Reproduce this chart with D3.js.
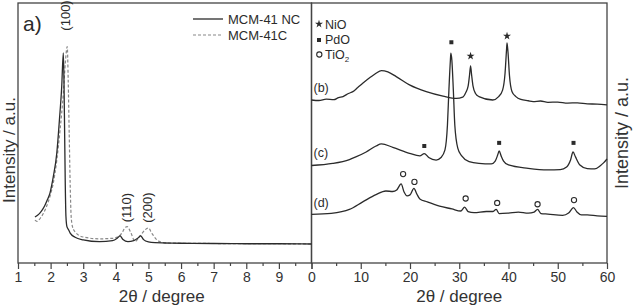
<!DOCTYPE html>
<html>
<head>
<meta charset="utf-8">
<script src="https://cdn.jsdelivr.net/npm/d3@7"></script>
<style>
  body { margin: 0; background: #fff; }
  svg { display: block; font-family: "Liberation Sans", Arial, sans-serif; }
</style>
</head>
<body>
<div id="chart"></div>
<script>
// panel a) : low angle XRD, MCM-41 NC (solid) and MCM-41C (dashed)
var ncX = [1.52, 1.6, 1.67, 1.75, 1.83, 1.9, 1.98, 2.08, 2.19, 2.27, 2.34, 2.39, 2.41, 2.43, 2.45, 2.47, 2.5, 2.55, 2.6, 2.75, 3.0, 3.5, 3.9, 4.05, 4.13, 4.22, 4.37, 4.55, 4.68, 4.76, 4.85, 5.0, 5.2, 5.5, 6, 7, 8, 9, 10];
var ncY = [17.7, 18.4, 19.2, 20.5, 22.3, 24.3, 26.9, 33, 42.3, 55, 67.7, 80.8, 70, 50, 30, 18, 14, 12.8, 11.5, 9.9, 8.9, 8.2, 8.6, 9.6, 10.4, 9.0, 8.2, 8.6, 9.6, 10.4, 9.0, 8.1, 7.8, 7.7, 7.6, 7.5, 7.4, 7.4, 7.3];
var cX = [1.52, 1.58, 1.62, 1.7, 1.78, 1.85, 1.93, 2.0, 2.08, 2.19, 2.29, 2.39, 2.45, 2.51, 2.54, 2.57, 2.6, 2.63, 2.67, 2.72, 2.8, 3.0, 3.5, 3.9, 4.1, 4.2, 4.28, 4.35, 4.45, 4.59, 4.75, 4.9, 5.0, 5.1, 5.25, 5.4, 5.6, 6, 7, 8, 9, 10];
var cY = [16.5, 16, 16.3, 17.5, 19.1, 21, 23.6, 26.5, 30.6, 39.6, 51.2, 65.3, 76.8, 83.2, 70, 50, 30, 18, 14, 12.5, 11.3, 10, 9.3, 9.5, 10.3, 11.8, 13.6, 14, 12, 8.3, 10.5, 12.8, 13.5, 11.5, 9, 8, 7.7, 7.6, 7.5, 7.4, 7.4, 7.3];

// wide angle XRD, traces (b), (c), (d)
var bX = [0, 1.5, 3, 4.5, 5.5, 6.4, 7.5, 8.4, 9.4, 10.4, 12, 13.1, 14.2, 15.5, 17.2, 19.9, 23.3, 26.7, 29.4, 30.7, 31.3, 31.8, 32.1, 32.3, 32.5, 32.8, 33.3, 34, 36.8, 38.0, 38.8, 39.3, 39.6, 39.7, 39.9, 40.2, 40.7, 41.5, 42.5, 44, 45, 46.5, 48, 50, 52, 54, 56, 58, 60];
var bY = [62.7, 62.5, 63.0, 62.8, 63.6, 64, 65.2, 65.9, 67.5, 69.1, 71.5, 73, 74, 73.5, 71.7, 68.5, 65.9, 64.2, 63.3, 63.8, 65.5, 68, 72.5, 75.8, 72.5, 68, 65.2, 64, 62.7, 64, 66.5, 73, 82, 84.7, 81, 72, 66, 64, 62.9, 62.4, 62.1, 62.3, 61.8, 61.9, 61.5, 61.6, 61.2, 61.1, 60.8];
var tcX = [0, 4.3, 7.7, 9, 11.1, 13.1, 14.2, 16.5, 19.9, 22, 22.9, 23.8, 25.3, 26.3, 27.1, 27.6, 27.9, 28.2, 28.3, 28.5, 28.8, 29.1, 29.7, 30.5, 32, 34, 36.5, 37.3, 37.8, 38.1, 38.5, 39, 40, 44, 48, 50.5, 51.8, 52.6, 53.1, 53.6, 54.5, 56, 57.5, 58.7, 59.3, 60];
var tcY = [37.5, 38.3, 39.8, 40.8, 42.7, 45, 45.8, 44.5, 42.2, 41.2, 42.1, 40.6, 39.6, 40.6, 43.5, 53, 66.5, 78, 80.7, 78, 66.5, 53, 44.2, 41.2, 39, 38.3, 38.1, 39.2, 41.5, 43.1, 41.2, 39.2, 37.7, 36.4, 35.8, 35.9, 36.9, 39.6, 42.7, 40.8, 37.7, 36.3, 36.2, 37.5, 38.5, 40];
var dX = [0, 4, 7.7, 10.4, 13.1, 15.1, 16.5, 17.3, 18.2, 18.8, 19.4, 20, 20.8, 21.4, 22, 23.5, 26, 28.5, 30.3, 31.1, 31.8, 33, 35.5, 36.8, 37.5, 38.1, 40, 42, 44, 45.2, 45.9, 46.6, 48, 51, 52.2, 53.2, 53.9, 54.8, 56, 58, 60];
var dY = [18.7, 19.1, 20.6, 23.5, 26.3, 27.7, 27.5, 28.1, 30.4, 27.3, 25.8, 26.2, 28.7, 26.5, 24.6, 23.5, 21.9, 20.8, 20, 21.5, 19.8, 19.4, 19.8, 19.8, 20.6, 19, 19.2, 19.6, 19.2, 19.6, 20.6, 19, 18.8, 18.3, 19.2, 21.3, 19.6, 18.5, 18.5, 18.1, 17.9];

// phase markers
var nioX = [32.3, 39.7], nioY = [79.6, 87.3];
var pdoX = [22.9, 28.4, 38.1, 53.2], pdoY = [45, 84.9, 46.2, 46.2];
var tio2X = [18.6, 20.9, 31.3, 37.7, 45.9, 53.3], tio2Y = [34.2, 31.2, 24.8, 23.1, 22.6, 24.2];

// axis ticks
var leftTicks = [1, 2, 3, 4, 5, 6, 7, 8, 9, 10];
var leftMinor = [1.5, 2.5, 3.5, 4.5, 5.5, 6.5, 7.5, 8.5, 9.5];
var rightTicks = [0, 10, 20, 30, 40, 50, 60];
var rightMinor = [5, 15, 25, 35, 45, 55];

var width = 633, height = 306;
var ink = "#2b2b2b";

var svg = d3.select("#chart").append("svg")
  .attr("width", width)
  .attr("height", height);

svg.append("rect").attr("width", width).attr("height", height).attr("fill", "#fff");

var xL = d3.scaleLinear().domain([1, 10]).range([18, 311.5]);
var xR = d3.scaleLinear().domain([0, 60]).range([311.5, 607]);
var y = d3.scaleLinear().domain([0, 100]).range([263, 3]);

function pts(xs, ys) { return xs.map((d, i) => [d, ys[i]]); }

// frames
[xL, xR].forEach(function (sx) {
  svg.append("rect")
    .attr("x", sx.range()[0]).attr("y", y.range()[1])
    .attr("width", sx.range()[1] - sx.range()[0])
    .attr("height", y.range()[0] - y.range()[1])
    .attr("fill", "none").attr("stroke", "#444").attr("stroke-width", 1.3);
});

function drawAxis(sx, major, minor, fmt) {
  var g = svg.append("g").attr("transform", "translate(0," + y.range()[0] + ")")
    .call(d3.axisBottom(sx).tickValues(major).tickSize(6).tickPadding(3).tickFormat(fmt));
  g.select(".domain").remove();
  g.selectAll("line").attr("stroke", "#444").attr("stroke-width", 1.2);
  g.selectAll("text").attr("font-size", 14).attr("fill", "#333");
  var m = svg.append("g").attr("transform", "translate(0," + y.range()[0] + ")")
    .call(d3.axisBottom(sx).tickValues(minor).tickSize(3).tickFormat(""));
  m.select(".domain").remove();
  m.selectAll("line").attr("stroke", "#444").attr("stroke-width", 1.2);
}
drawAxis(xL, leftTicks, leftMinor, d => d == 10 ? "" : d);
drawAxis(xR, rightTicks, rightMinor, d => d);

// curves
var lineL = d3.line().x(d => xL(d[0])).y(d => y(d[1])).curve(d3.curveMonotoneX);
var lineR = d3.line().x(d => xR(d[0])).y(d => y(d[1])).curve(d3.curveMonotoneX);

svg.append("path").attr("d", lineL(pts(cX, cY)))
  .attr("fill", "none").attr("stroke", "#888").attr("stroke-width", 1.2).attr("stroke-dasharray", "3,2");
svg.append("path").attr("d", lineL(pts(ncX, ncY)))
  .attr("fill", "none").attr("stroke", ink).attr("stroke-width", 1.3);

[[bX, bY], [tcX, tcY], [dX, dY]].forEach(function (s) {
  svg.append("path").attr("d", lineR(pts(s[0], s[1])))
    .attr("fill", "none").attr("stroke", ink).attr("stroke-width", 1.3);
});

// markers
svg.selectAll(".nio").data(pts(nioX, nioY)).enter().append("path")
  .attr("d", d3.symbol().type(d3.symbolStar).size(20))
  .attr("transform", d => "translate(" + xR(d[0]) + "," + y(d[1]) + ")")
  .attr("fill", ink);
svg.selectAll(".pdo").data(pts(pdoX, pdoY)).enter().append("rect")
  .attr("x", d => xR(d[0]) - 2).attr("y", d => y(d[1]) - 2)
  .attr("width", 4).attr("height", 4).attr("fill", ink);
svg.selectAll(".tio2").data(pts(tio2X, tio2Y)).enter().append("circle")
  .attr("cx", d => xR(d[0])).attr("cy", d => y(d[1])).attr("r", 2.6)
  .attr("fill", "none").attr("stroke", ink).attr("stroke-width", 1.1);

// legend of right panel
var lg = svg.append("g").attr("fill", ink).attr("font-size", 12.5);
lg.append("path").attr("d", d3.symbol().type(d3.symbolStar).size(20)).attr("transform", "translate(319,24)");
lg.append("text").attr("x", 325).attr("y", 28.5).text("NiO");
lg.append("rect").attr("x", 317).attr("y", 38).attr("width", 4).attr("height", 4);
lg.append("text").attr("x", 325).attr("y", 43.5).text("PdO");
lg.append("circle").attr("cx", 319.3).attr("cy", 54.5).attr("r", 2.6).attr("fill", "none").attr("stroke", ink).attr("stroke-width", 1.1);
var tio = lg.append("text").attr("x", 325).attr("y", 58.5).text("TiO");
tio.append("tspan").attr("font-size", 8).attr("dy", 3).text("2");

// trace labels
[["(b)", 65.6], ["(c)", 40.6], ["(d)", 21.4]].forEach(function (t) {
  svg.append("text").attr("x", xR(0) + 2).attr("y", y(t[1]))
    .attr("font-size", 12.5).attr("fill", ink).text(t[0]);
});

// legend of left panel
svg.append("line").attr("x1", 193).attr("x2", 223).attr("y1", 19).attr("y2", 19)
  .attr("stroke", ink).attr("stroke-width", 1.3);
svg.append("line").attr("x1", 193).attr("x2", 223).attr("y1", 35).attr("y2", 35)
  .attr("stroke", "#888").attr("stroke-width", 1.2).attr("stroke-dasharray", "3,2");
svg.append("text").attr("x", 228).attr("y", 24).attr("font-size", 13).attr("fill", ink).text("MCM-41 NC");
svg.append("text").attr("x", 228).attr("y", 40).attr("font-size", 13).attr("fill", ink).text("MCM-41C");

svg.append("text").attr("x", 23).attr("y", 31).attr("font-size", 21).attr("fill", ink).text("a)");

// reflection labels
[["(100)", 2.47, 95.2], ["(110)", 4.34, 21.3], ["(200)", 4.97, 21.3]].forEach(function (t) {
  svg.append("text")
    .attr("transform", "translate(" + (xL(t[1]) + 4.5) + "," + y(t[2]) + ") rotate(-90)")
    .attr("text-anchor", "middle").attr("font-size", 13).attr("fill", ink).text(t[0]);
});

// axis titles
svg.append("text").attr("x", (xL.range()[0] + xL.range()[1]) / 2 - 3).attr("y", 301.5)
  .attr("text-anchor", "middle").attr("font-size", 17).attr("fill", "#333").text("2θ / degree");
svg.append("text").attr("x", (xR.range()[0] + xR.range()[1]) / 2).attr("y", 301.5)
  .attr("text-anchor", "middle").attr("font-size", 17).attr("fill", "#333").text("2θ / degree");
svg.append("text").attr("transform", "translate(14.5,150) rotate(-90)")
  .attr("text-anchor", "middle").attr("font-size", 17).attr("fill", "#333").text("Intensity / a.u.");
svg.append("text").attr("transform", "translate(628,133) rotate(-90)")
  .attr("text-anchor", "middle").attr("font-size", 18).attr("fill", "#333").text("Intensity / a.u.");
</script>
</body>
</html>
